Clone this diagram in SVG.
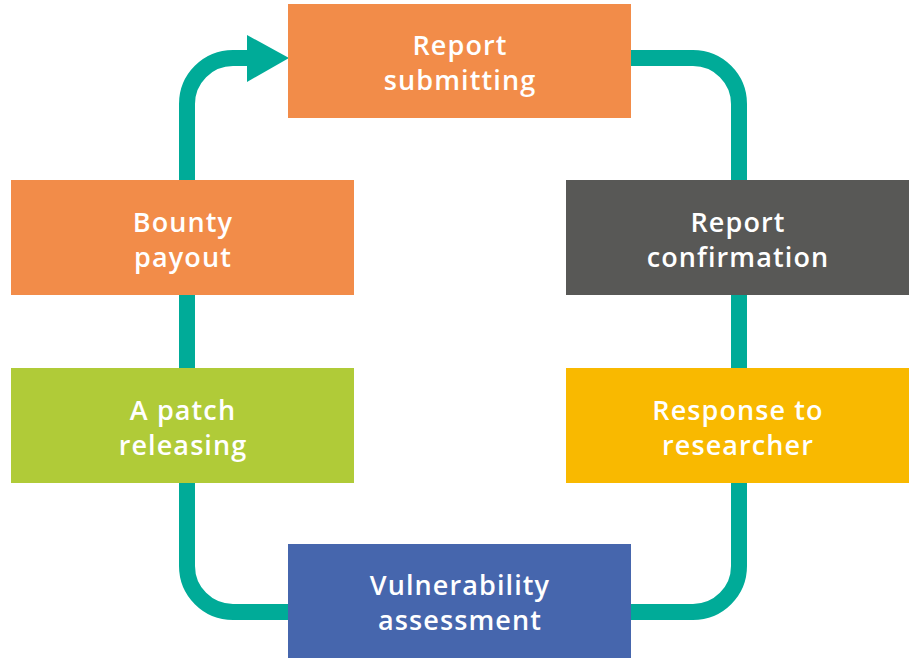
<svg xmlns="http://www.w3.org/2000/svg" width="914" height="659" viewBox="0 0 914 659">
  <style>
    .box-label { font-family: "Open Sans", Lato, sans-serif; font-weight: 600; font-size: 27px; letter-spacing: 1.1px; fill: #ffffff; text-anchor: middle; }
    .cycle { fill: none; stroke: #00AB98; stroke-width: 16; }
  </style>
  <rect width="914" height="659" fill="#ffffff"/>

  <!-- cycle line around the boxes -->
  <g id="connectors">
    <path class="cycle" d="M 248 58 L 233 58 A 46 46 0 0 0 187 104 L 187 566 A 46 46 0 0 0 233 612 L 693 612 A 46 46 0 0 0 739 566 L 739 104 A 46 46 0 0 0 693 58 L 620 58"/>
    <polygon points="247,35 289,58 247,82" fill="#00AB98"/>
  </g>

  <g id="report-submitting">
    <rect x="288" y="4" width="343" height="114" fill="#F28C49"/>
    <text class="box-label" x="460" y="55">Report</text>
    <text class="box-label" x="460" y="90">submitting</text>
  </g>

  <g id="report-confirmation">
    <rect x="566" y="180" width="343" height="115" fill="#585856"/>
    <text class="box-label" x="738" y="231.5">Report</text>
    <text class="box-label" x="738" y="266.5">confirmation</text>
  </g>

  <g id="response-to-researcher">
    <rect x="566" y="368" width="343" height="115" fill="#F9B900"/>
    <text class="box-label" x="738" y="419.5">Response to</text>
    <text class="box-label" x="738" y="454.5">researcher</text>
  </g>

  <g id="vulnerability-assessment">
    <rect x="288" y="544" width="343" height="114" fill="#4666AD"/>
    <text class="box-label" x="460" y="595">Vulnerability</text>
    <text class="box-label" x="460" y="630">assessment</text>
  </g>

  <g id="patch-releasing">
    <rect x="11" y="368" width="343" height="115" fill="#B0CB38"/>
    <text class="box-label" x="183" y="419.5">A patch</text>
    <text class="box-label" x="183" y="454.5">releasing</text>
  </g>

  <g id="bounty-payout">
    <rect x="11" y="180" width="343" height="115" fill="#F28C49"/>
    <text class="box-label" x="183" y="231.5">Bounty</text>
    <text class="box-label" x="183" y="266.5">payout</text>
  </g>
</svg>
